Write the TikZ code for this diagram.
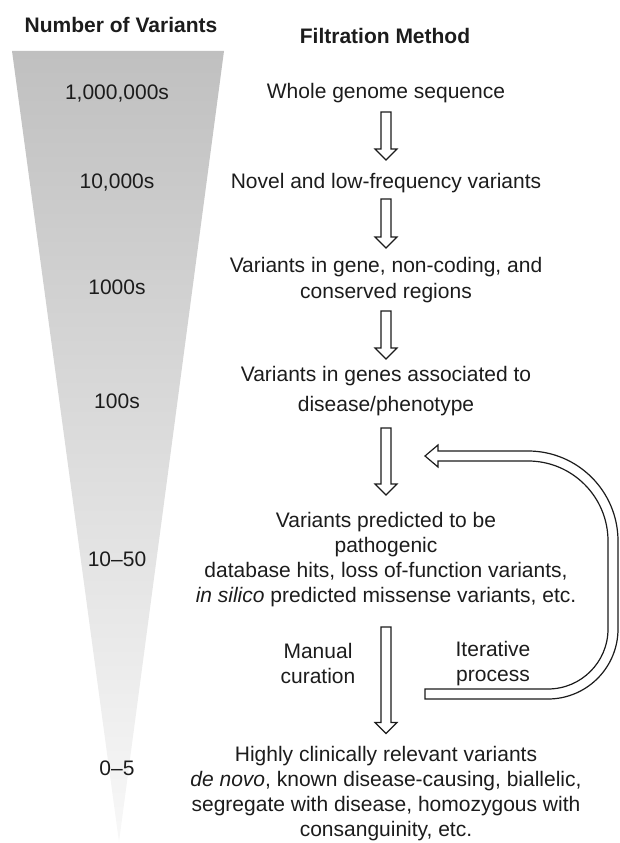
\documentclass[tikz,border=0pt]{standalone}
\usepackage{fontspec}
\setmainfont{Liberation Sans}
\usetikzlibrary{calc}
\definecolor{ink}{RGB}{28,28,28}
\definecolor{funneltop}{RGB}{192,192,192}
\definecolor{funnelbottom}{RGB}{248,248,248}
\tikzset{
    heading/.style={
           font=\fontsize{21}{25}\selectfont\bfseries,
           text=ink,
           inner sep=0pt,
           },
    count/.style={
           font=\fontsize{21}{25}\selectfont,
           text=ink,
           inner sep=0pt,
           },
    filter/.style={
           align=center,
           font=\fontsize{21}{25}\selectfont,
           text=ink,
           inner sep=0pt,
           },
    hollow/.style={
           draw=ink, fill=white,
           line width=1.2pt,
           },
}
% block arrow between two filter steps: from, to, gap below from, gap above to
\newcommand{\flowarrow}[4]{%
  \draw[hollow] let \p1=($(#1.south)+(0,-#3)$), \p2=($(#2.north)+(0,#4)$) in
    (\x1-5pt,\y1) -- (\x1+5pt,\y1) -- (\x1+5pt,\y2+11pt) -- (\x1+11pt,\y2+11pt)
    -- (\x1,\y2) -- (\x1-11pt,\y2+11pt) -- (\x1-5pt,\y2+11pt) -- cycle;}

\begin{document}
\begin{tikzpicture}[x=1pt, y=1pt]
  \useasboundingbox (0,0) rectangle (619,843);
  \shade[top color=funneltop, bottom color=funnelbottom] (12,792) -- (224,792) -- (119,1) -- cycle;

  \node[heading] (nvar)  at (121,818) {Number of Variants};
  \node[heading] (fmeth) at (385,807) {Filtration Method};

  % number of variants
  \node[count] (c1) at (117,749) {1,000,000s};
  \node[count] (c2) at (117,660) {10,000s};
  \node[count] (c3) at (117,556) {1000s};
  \node[count] (c4) at (117,442) {100s};
  \node[count] (c5) at (117,284) {10--50};
  \node[count] (c6) at (117,75)  {0--5};

  % filtration steps
  \node[filter] (whole) at (386,750)   {Whole genome sequence};
  \node[filter] (novel) at (386,660)   {Novel and low-frequency variants};
  \node[filter] (gene)  at (386,563)   {Variants in gene, non-coding, and\\[1pt] conserved regions};
  \node[filter] (assoc) at (386,452)   {Variants in genes associated to\\[5pt] disease/phenotype};
  \node[filter] (pred)  at (386,283.5) {Variants predicted to be\\ pathogenic\\ database hits, loss of-function variants,\\ \textit{in silico} predicted missense variants, etc.};
  \node[filter] (high)  at (386,49)    {Highly clinically relevant variants\\ \textit{de novo}, known disease-causing, biallelic,\\ segregate with disease, homozygous with\\ consanguinity, etc.};

  \node[filter] (manual) at (318,180) {Manual\\ curation};
  \node[filter] (iter)   at (493,179) {Iterative\\ process};

  \flowarrow{whole}{novel}{9}{13}
  \flowarrow{novel}{gene}{6}{9}
  \flowarrow{gene}{assoc}{8}{7}
  \flowarrow{assoc}{pred}{12}{17}
  \flowarrow{pred}{high}{20}{13}

  % iterative loop back
  \coordinate (loopend)   at (425,387);
  \coordinate (loopstart) at (425,149);
  \draw[hollow] (loopend) -- ++(13,11) -- ++(0,-6) -- (528,392)
      arc[start angle=90, end angle=0, radius=90] -- (618,214)
      arc[start angle=0, end angle=-90, radius=70] -- ($(loopstart)+(0,-5)$)
      -- ($(loopstart)+(0,5)$) -- (548,154)
      arc[start angle=-90, end angle=0, radius=60] -- (608,302)
      arc[start angle=0, end angle=90, radius=80] -- (438,382) -- (438,376) -- cycle;
\end{tikzpicture}
\end{document}
